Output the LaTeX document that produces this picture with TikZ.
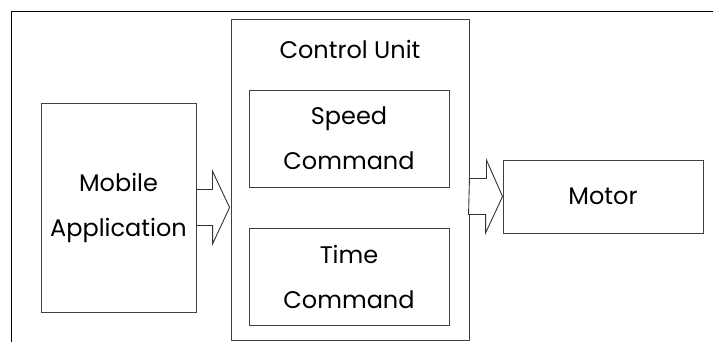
\documentclass[tikz,border=0pt]{standalone}
\usepackage{fontspec}
\setmainfont{Poppins}
\usetikzlibrary{calc}
\tikzset{
  blk/.style={draw=black!75, line width=0.9pt, minimum width=#1, inner sep=0pt, align=center,
              font=\fontsize{24}{45}\selectfont},
  flow/.style={draw=black!80, line width=0.9pt, line join=miter, fill=white},
}
\begin{document}
\begin{tikzpicture}[x=1pt,y=1pt]
  \useasboundingbox (0,0) rectangle (713,342);
  % frame lines along top and left
  \draw[line width=1pt] (713,330.5) -- (11.5,330.5) -- (11.5,0);
  % blocks
  \node[blk=155pt, minimum height=209pt] (mob) at (118.5,134.5) {Mobile\\Application};
  \node[blk=238pt, minimum height=321pt] (ctl) at (350,162.5) {};
  \node[font=\fontsize{24}{28}\selectfont] (ttl) at (350,293) {Control Unit};
  \node[blk=200pt, minimum height=97pt] (spd) at (349,203.5) {Speed\\Command};
  \node[blk=200pt, minimum height=97pt] (tim) at (349,65.5) {Time\\Command};
  \node[blk=200pt, minimum height=73pt] (mot) at (603,145.5) {Motor};
  % block arrows
  \draw[flow] ($(mob.east)+(0,18)$) -- ++(16,0) -- ++(0,18.5)
     -- ($(mob.east -| ctl.west)+(-1,0)$) -- ++(-17,-36.5) -- ++(0,18.5) -- ++(-16,0) -- cycle;
  \draw[flow] ($(mot.west -| ctl.east)+(0,18)$) -- ++(17,0) -- ++(0,18.5)
     -- (mot.west) -- ++(-17,-36.5) -- ++(0,18.5) -- ++(-17,0) -- cycle;
\end{tikzpicture}
\end{document}
